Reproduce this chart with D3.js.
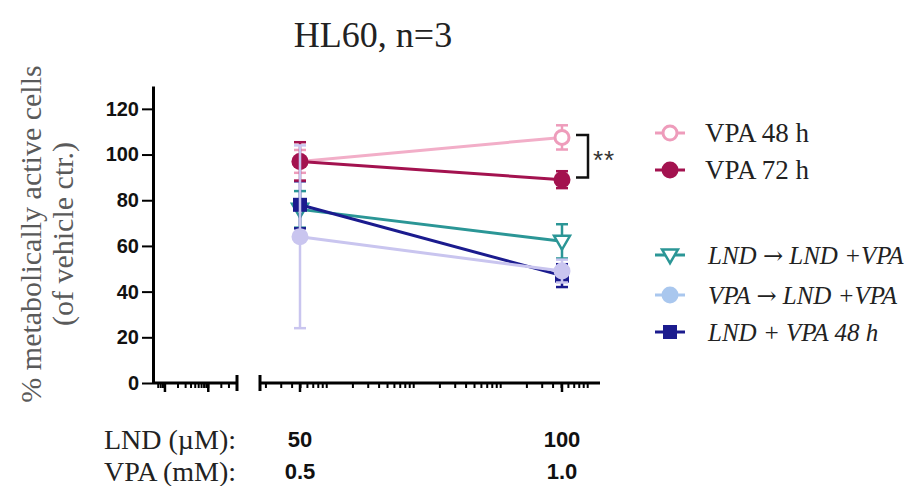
<!DOCTYPE html>
<html>
<head>
<meta charset="utf-8">
<script src="https://cdn.jsdelivr.net/npm/d3@7/dist/d3.min.js"></script>
<style>
  body { margin: 0; background: #fff; }
  svg { display: block; }
</style>
</head>
<body>
<div id="chart"></div>
<script>
// doses on the x axis
var lndDoses = [50, 100];
var lndLabels = ['50', '100'];
var vpaLabels = ['0.5', '1.0'];

// series (mean, SD)
var seriesNames = ['VPA 48 h', 'VPA 72 h', 'LND \u2192 LND +VPA', 'VPA \u2192 LND +VPA', 'LND + VPA 48 h'];
var vpa48Mean = [97, 107.5];
var vpa48Err = [5, 5.3];
var vpa72Mean = [97, 89];
var vpa72Err = [8.4, 3.7];
var lndSeqMean = [76, 62];
var lndSeqErr = [8, 7.5];
var vpaSeqMean = [64, 49];
var vpaSeqErr = [40, 5];
var comboMean = [78, 47];
var comboErr = [10.3, 5];

var yTicks = [0, 20, 40, 60, 80, 100, 120];

var width = 916, height = 486;
var serif = '"Liberation Serif", "Times New Roman", serif';
var sansBold = '"Liberation Sans", Arial, sans-serif';

var svg = d3.select('#chart').append('svg')
    .attr('width', width)
    .attr('height', height);

var y = d3.scaleLinear()
    .domain([0, 130])
    .range([383, 86]);

// right (data) segment of the broken x axis
var x = d3.scaleLinear()
    .domain(lndDoses)
    .range([300, 562]);
var rightSeg = [260, 600];
var leftSeg = [153, 237];

// log-style minor ticks as drawn by the original software
var logRight = d3.scaleLog().domain([0.171, 1385]).range(rightSeg);
var logLeft = d3.scaleLog().domain([0.53, 46]).range(leftSeg);

// title
svg.append('text')
    .attr('x', 373)
    .attr('y', 47)
    .attr('text-anchor', 'middle')
    .attr('font-family', serif)
    .attr('font-size', 36)
    .attr('fill', '#222')
    .text('HL60, n=3');

// y axis title
var yTitle = svg.append('text')
    .attr('transform', 'translate(0,234) rotate(-90)')
    .attr('text-anchor', 'middle')
    .attr('font-family', serif)
    .attr('font-size', 30)
    .attr('fill', '#5a5a5a');
yTitle.append('tspan').attr('x', 0).attr('y', 41).text('% metabolically active cells');
yTitle.append('tspan').attr('x', 0).attr('y', 73).text('(of vehicle ctr.)');

// y axis
var yAxis = svg.append('g')
    .attr('transform', 'translate(153,0)')
    .call(d3.axisLeft(y).tickValues(yTicks).tickSize(11).tickSizeOuter(0).tickPadding(3));
yAxis.select('.domain').attr('stroke-width', 3);
yAxis.selectAll('.tick line').attr('stroke-width', 2);
yAxis.selectAll('.tick text')
    .attr('font-family', sansBold)
    .attr('font-weight', 'bold')
    .attr('font-size', 20)
    .attr('fill', '#111');

// x axis segments
var axisY = y(0);
function drawSegment (seg, logScale, majors, majorScale) {
    var g = svg.append('g');
    g.append('line')
        .attr('x1', seg[0]).attr('x2', seg[1])
        .attr('y1', axisY).attr('y2', axisY)
        .attr('stroke', '#000').attr('stroke-width', 3);
    var minor = logScale.ticks().filter(function (t) {
        var px = logScale(t);
        return px > seg[0] + 3 && px < seg[1] - 3;
    });
    g.selectAll('.minor')
        .data(minor)
        .enter().append('line')
        .attr('class', 'minor')
        .attr('x1', function (d) { return logScale(d); })
        .attr('x2', function (d) { return logScale(d); })
        .attr('y1', axisY)
        .attr('y2', axisY + 5)
        .attr('stroke', '#000').attr('stroke-width', 2);
    g.selectAll('.major')
        .data(majors)
        .enter().append('line')
        .attr('class', 'major')
        .attr('x1', function (d) { return majorScale(d); })
        .attr('x2', function (d) { return majorScale(d); })
        .attr('y1', axisY)
        .attr('y2', axisY + 9)
        .attr('stroke', '#000').attr('stroke-width', 2.5);
    return g;
}
drawSegment(leftSeg, logLeft, [1, 10], logLeft);
drawSegment(rightSeg, logRight, lndDoses, x);

// break caps
svg.selectAll('.cap')
    .data([leftSeg[1], rightSeg[0]])
    .enter().append('line')
    .attr('x1', function (d) { return d; })
    .attr('x2', function (d) { return d; })
    .attr('y1', axisY - 8)
    .attr('y2', axisY + 8)
    .attr('stroke', '#000').attr('stroke-width', 3);

// dose labels under the axis
[['LND (\u00b5M):', lndLabels, 449], ['VPA (mM):', vpaLabels, 481]].forEach(function (row) {
    svg.append('text')
        .attr('x', 236).attr('y', row[2])
        .attr('text-anchor', 'end')
        .attr('font-family', serif)
        .attr('font-size', 28)
        .attr('fill', '#222')
        .text(row[0]);
    svg.selectAll(null)
        .data(lndDoses)
        .enter().append('text')
        .attr('x', function (d) { return x(d); })
        .attr('y', row[2] - 2)
        .attr('text-anchor', 'middle')
        .attr('font-family', sansBold)
        .attr('font-weight', 'bold')
        .attr('font-size', 22)
        .attr('fill', '#111')
        .text(function (d, i) { return row[1][i]; });
});

// series table
var series = [
    { name: seriesNames[0], mean: vpa48Mean, err: vpa48Err, color: '#ee9cbb', line: '#f2aec8', marker: 'openCircle', legendY: 133, italic: false },
    { name: seriesNames[1], mean: vpa72Mean, err: vpa72Err, color: '#a3124f', line: '#a3124f', marker: 'circle', legendY: 170, italic: false },
    { name: seriesNames[2], mean: lndSeqMean, err: lndSeqErr, color: '#2b9696', line: '#2b9696', marker: 'triangleDown', legendY: 255, italic: true },
    { name: seriesNames[3], mean: vpaSeqMean, err: vpaSeqErr, color: '#c9c5ef', line: '#c9c5ef', marker: 'circle', legendColor: '#a9c7ee', legendY: 295, italic: true },
    { name: seriesNames[4], mean: comboMean, err: comboErr, color: '#1b1b8e', line: '#1b1b8e', marker: 'square', legendY: 332, italic: true }
];
var drawOrder = [0, 2, 4, 1, 3];

function drawMarker (g, type, color, cx, cy) {
    if (type === 'openCircle') {
        g.append('circle').attr('cx', cx).attr('cy', cy).attr('r', 7)
            .attr('fill', '#fff').attr('stroke', color).attr('stroke-width', 3);
    } else if (type === 'circle') {
        g.append('circle').attr('cx', cx).attr('cy', cy).attr('r', 8.5)
            .attr('fill', color);
    } else if (type === 'triangleDown') {
        g.append('path')
            .attr('d', d3.symbol().type(d3.symbolTriangle).size(110))
            .attr('transform', 'translate(' + cx + ',' + (cy - 1) + ') rotate(180)')
            .attr('fill', '#fff').attr('stroke', color).attr('stroke-width', 2.5);
    } else if (type === 'square') {
        g.append('rect').attr('x', cx - 7).attr('y', cy - 7)
            .attr('width', 14).attr('height', 14).attr('fill', color);
    }
}

var line = d3.line()
    .x(function (d) { return x(d[0]); })
    .y(function (d) { return y(d[1]); });

drawOrder.forEach(function (si) {
    var s = series[si];
    var g = svg.append('g');
    var pts = lndDoses.map(function (d, i) { return [d, s.mean[i], s.err[i]]; });
    g.append('path')
        .datum(pts)
        .attr('d', line)
        .attr('fill', 'none')
        .attr('stroke', s.line)
        .attr('stroke-width', 3);
    pts.forEach(function (p) {
        var cx = x(p[0]);
        var y1 = y(p[1] + p[2]), y2 = y(p[1] - p[2]);
        g.append('line').attr('x1', cx).attr('x2', cx).attr('y1', y1).attr('y2', y2)
            .attr('stroke', s.color).attr('stroke-width', 2.5);
        [y1, y2].forEach(function (cy) {
            g.append('line').attr('x1', cx - 6).attr('x2', cx + 6).attr('y1', cy).attr('y2', cy)
                .attr('stroke', s.color).attr('stroke-width', 2.5);
        });
        drawMarker(g, s.marker, s.color, cx, y(p[1]));
    });
});

// significance bracket between VPA 48 h and VPA 72 h at 100
var bx = x(100) + 26;
var bTop = y(vpa48Mean[1] + 1), bBot = y(vpa72Mean[1] + 1);
svg.append('path')
    .attr('d', 'M' + (bx - 12) + ',' + bTop + 'H' + bx + 'V' + bBot + 'H' + (bx - 12))
    .attr('fill', 'none').attr('stroke', '#111').attr('stroke-width', 2.5);
svg.append('text')
    .attr('x', bx + 5)
    .attr('y', (bTop + bBot) / 2 + 13)
    .attr('font-family', sansBold)
    .attr('font-size', 26)
    .attr('letter-spacing', 1)
    .attr('fill', '#333')
    .text('**');

// legend
var legend = svg.append('g');
series.forEach(function (s) {
    var lc = s.legendColor || s.color;
    var g = legend.append('g');
    g.append('line').attr('x1', 655).attr('x2', 685)
        .attr('y1', s.legendY).attr('y2', s.legendY)
        .attr('stroke', lc).attr('stroke-width', 3);
    drawMarker(g, s.marker, lc, 670, s.legendY);
    var t = g.append('text')
        .attr('x', s.italic ? 708 : 705)
        .attr('y', s.legendY + 9)
        .attr('font-family', serif)
        .attr('font-style', s.italic ? 'italic' : 'normal')
        .attr('font-size', s.italic ? 25 : 27)
        .attr('fill', '#222');
    // split around the arrow so it can use a wider glyph
    s.name.split(/(\u2192)/).forEach(function (part) {
        var ts = t.append('tspan').text(part);
        if (part === '\u2192') {
            ts.attr('font-family', '"DejaVu Serif", serif')
                .attr('font-style', 'normal')
                .attr('font-size', 24);
        }
    });
});
</script>
</body>
</html>
